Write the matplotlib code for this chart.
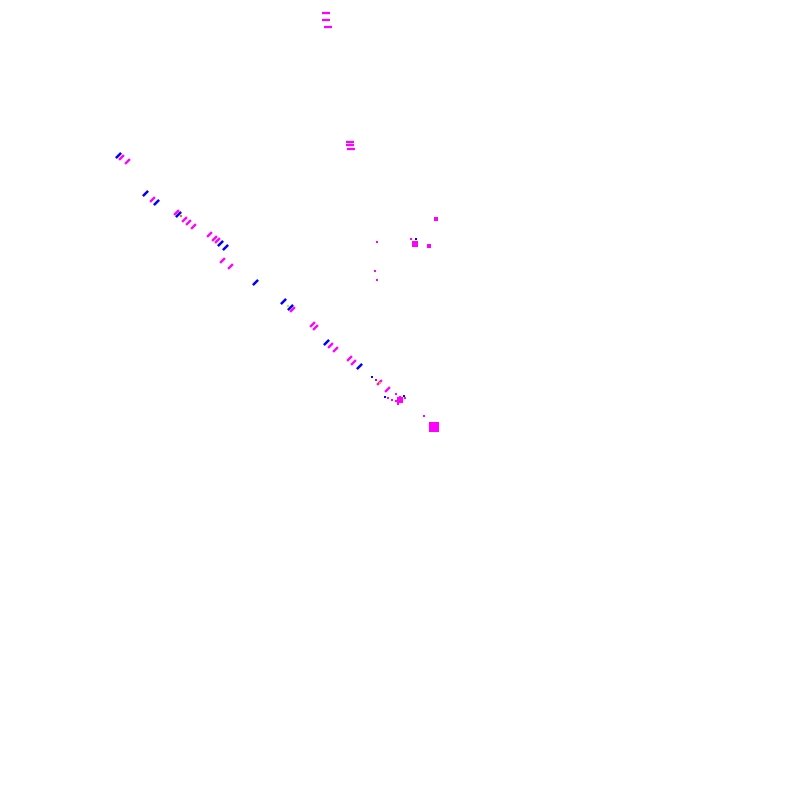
import matplotlib
matplotlib.use("Agg")
import matplotlib.pyplot as plt

# mark positions (picture pixels, y grows downward)
dash_x = [326, 326, 328, 350, 350, 351]
dash_y = [13, 20, 27, 142, 145, 149]

blue_slash_x = [118, 145, 156, 178, 220, 225, 255, 283, 290, 326, 359]
blue_slash_y = [155, 193, 202, 214, 243, 247, 282, 301, 307, 342, 366]

mag_slash_x = [121, 127, 152, 176, 184, 188, 193, 209, 214, 217, 222, 230,
               292, 312, 315, 330, 335, 349, 353, 379, 387]
mag_slash_y = [157, 161, 199, 212, 219, 222, 226, 234, 238, 240, 260, 266,
               309, 324, 327, 345, 349, 358, 362, 382, 389]

mag_dot_x = [377, 375, 377, 424, 388, 411, 392, 396, 400, 402, 398, 396, 405]
mag_dot_y = [242, 271, 280, 416, 398, 239, 400, 401, 397, 400, 404, 394, 398]

blue_dot_x = [416, 372, 385, 404]
blue_dot_y = [239, 377, 397, 396]

other_x = [181, 288, 376, 380]
other_y = [216, 306, 380, 383]
other_c = ["#ff6600", "#aaff00", "#ff0033", "#ffaa00"]

blob_x = [436, 415, 429, 400, 434]
blob_y = [219, 244, 246, 400, 427]
blob_s = [10, 22, 12, 20, 60]

fig = plt.figure(figsize=(8, 8), dpi=100)
ax = fig.add_axes([0, 0, 1, 1])
ax.set_xlim(0, 800)
ax.set_ylim(800, 0)
ax.axis("off")

slash = [(-1, -1), (1, 1)]

ax.scatter(dash_x, dash_y, marker="_", s=30, linewidths=1.6, color="#ff00ff")
ax.scatter(blue_slash_x, blue_slash_y, marker=slash, s=14, linewidths=1.8, color="#0000ff")
ax.scatter(mag_slash_x, mag_slash_y, marker=slash, s=12, linewidths=1.7, color="#ff00ff")
ax.scatter(mag_dot_x, mag_dot_y, marker="s", s=4, linewidths=0, color="#ff00ff")
ax.scatter(blue_dot_x, blue_dot_y, marker="s", s=3, linewidths=0, color="#0000ff")
ax.scatter(other_x, other_y, marker="s", s=3, linewidths=0, color=other_c)
ax.scatter(blob_x, blob_y, marker="s", s=blob_s, linewidths=0, color="#ff00ff")

fig.savefig("out.png", dpi=100, facecolor="white")
